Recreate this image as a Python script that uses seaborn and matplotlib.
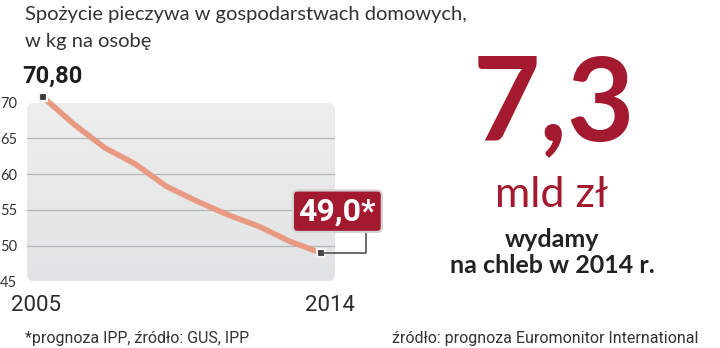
import numpy as np
import pandas as pd
import matplotlib
matplotlib.use("Agg")
import matplotlib.pyplot as plt
from matplotlib.patches import FancyBboxPatch
from matplotlib.colors import LinearSegmentedColormap
import seaborn as sns

# ---- data ----
years = [2005, 2006, 2007, 2008, 2009, 2010, 2011, 2012, 2013, 2014]
values = [70.8, 67.0, 63.7, 61.4, 58.3, 56.2, 54.3, 52.7, 50.6, 49.0]
ytick_values = [45, 50, 55, 60, 65, 70]
grid_values = [50, 55, 60, 65]
first_label = "70,80"
last_label = "49,0*"
title_lines = ["Spożycie pieczywa w gospodarstwach domowych,", "w kg na osobę"]
big_number = "7,3"
big_unit = "mld zł"
caption_lines = ["wydamy", "na chleb w 2014 r."]
footer_left = "*prognoza IPP, źródło: GUS, IPP"
footer_right = "źródło: prognoza Euromonitor International"

RED = "#a3192f"
LINE = "#e89a83"
TXT = "#2b2b2b"
COND = ["Roboto", "DejaVu Sans"]

sns.set_theme(style="white")
plt.rcParams["font.family"] = ["Lato", "DejaVu Sans"]

W, H = 720, 348
fig = plt.figure(figsize=(W / 100, H / 100), dpi=100)
fig.patch.set_facecolor("white")

def fx(px):
    return px / W

def fy(py):
    return 1 - py / H

ax = fig.add_axes([fx(27), fy(281.5), (335 - 27) / W, (281.5 - 102.5) / H])
ax.set_xlim(2004.492, 2014.463)
ax.set_ylim(45, 70)
ax.set_facecolor("none")
for s in ax.spines.values():
    s.set_visible(False)

# grey rounded background with slight gradient
patch = FancyBboxPatch((0, 0), 1, 1, boxstyle="round,pad=0,rounding_size=0.025",
                       mutation_aspect=308 / 179, transform=ax.transAxes,
                       facecolor="none", edgecolor="none")
ax.add_patch(patch)
grad = np.linspace(0, 1, 256).reshape(-1, 1)
cmap = LinearSegmentedColormap.from_list("g", ["#e2e3e4", "#eeeeee"])
im = ax.imshow(grad, extent=[2004.492, 2014.463, 45, 70], origin="lower",
               aspect="auto", cmap=cmap, zorder=0)
im.set_clip_path(patch)

for g in grid_values:
    ax.axhline(g, color="#b3b5b7", lw=0.9, zorder=1)

df = pd.DataFrame({"rok": years, "kg": values})
sns.lineplot(data=df, x="rok", y="kg", ax=ax, color=LINE, lw=4.0,
             solid_capstyle="round", solid_joinstyle="round", zorder=3,
             clip_on=False)

# end markers
ax.plot([years[0], years[-1]], [values[0], values[-1]], ls="none", marker="s",
        ms=5.5, mfc="#3a3a3a", mec="#f4f4f4", mew=1.6, zorder=6, clip_on=False)

ax.set_xlabel("")
ax.set_ylabel("")
ax.set_yticks(ytick_values)
ax.set_yticklabels([str(v) for v in ytick_values])
ax.tick_params(axis="y", length=0, pad=7, labelsize=10.5, labelcolor="#333333")

ax.set_xticks([])
ax.set_xticks([y + 0.5 for y in years[:-1]], minor=True)
ax.tick_params(axis="x", which="minor", length=3.5, width=1.0, color="#444444",
               direction="inout")

# year labels
ax.annotate(str(years[0]), xy=(years[0], 0), xycoords=("data", "axes fraction"),
            xytext=(-5, -17.5), textcoords="offset points", ha="center", va="center",
            fontsize=16, color=TXT, family=COND)
ax.annotate(str(years[-1]), xy=(years[-1], 0), xycoords=("data", "axes fraction"),
            xytext=(7, -17.5), textcoords="offset points", ha="center", va="center",
            fontsize=16, color=TXT, family=COND)

# value labels
ax.annotate(first_label, xy=(years[0], values[0]), xytext=(7, 14.5),
            textcoords="offset points", ha="center", va="center", fontsize=17,
            fontweight="bold", color="#1e1e1e", family=COND, annotation_clip=False)

ax.annotate(last_label, xy=(years[-1], values[-1]), xytext=(12, 30),
            textcoords="offset points", ha="center", va="center", fontsize=23,
            fontweight="bold", color="white", family=COND, annotation_clip=False,
            bbox=dict(boxstyle="round,pad=0.18,rounding_size=0.15", fc=RED,
                      ec="#d5d5d5", lw=1.6),
            arrowprops=dict(arrowstyle="-", color="#555555", lw=1.2,
                            connectionstyle="angle,angleA=90,angleB=0,rad=0",
                            relpos=(0.87, 0.0), shrinkA=0, shrinkB=0),
            zorder=7)

# title
fig.text(fx(25), fy(20), title_lines[0], ha="left", va="baseline",
         fontsize=14.5, color="#333333")
fig.text(fx(25), fy(47), title_lines[1], ha="left", va="baseline",
         fontsize=14.5, color="#333333")

# right side
fig.text(fx(554), fy(140), big_number, ha="center", va="baseline", fontsize=84,
         color=RED, fontweight="bold")
fig.text(fx(552), fy(207), big_unit, ha="center", va="baseline", fontsize=31,
         color=RED, fontweight="normal")
fig.text(fx(552), fy(247), caption_lines[0], ha="center", va="baseline", fontsize=18,
         color="#222222", fontweight="bold")
fig.text(fx(552), fy(273), caption_lines[1], ha="center", va="baseline", fontsize=18,
         color="#222222", fontweight="bold")

# footers
fig.text(fx(25), fy(343), footer_left, ha="left", va="baseline", fontsize=11.5,
         color="#333333", family=COND)
fig.text(fx(698), fy(343), footer_right, ha="right", va="baseline", fontsize=11.5,
         color="#333333", family=COND)

fig.savefig("out.png", dpi=100, facecolor="white")
